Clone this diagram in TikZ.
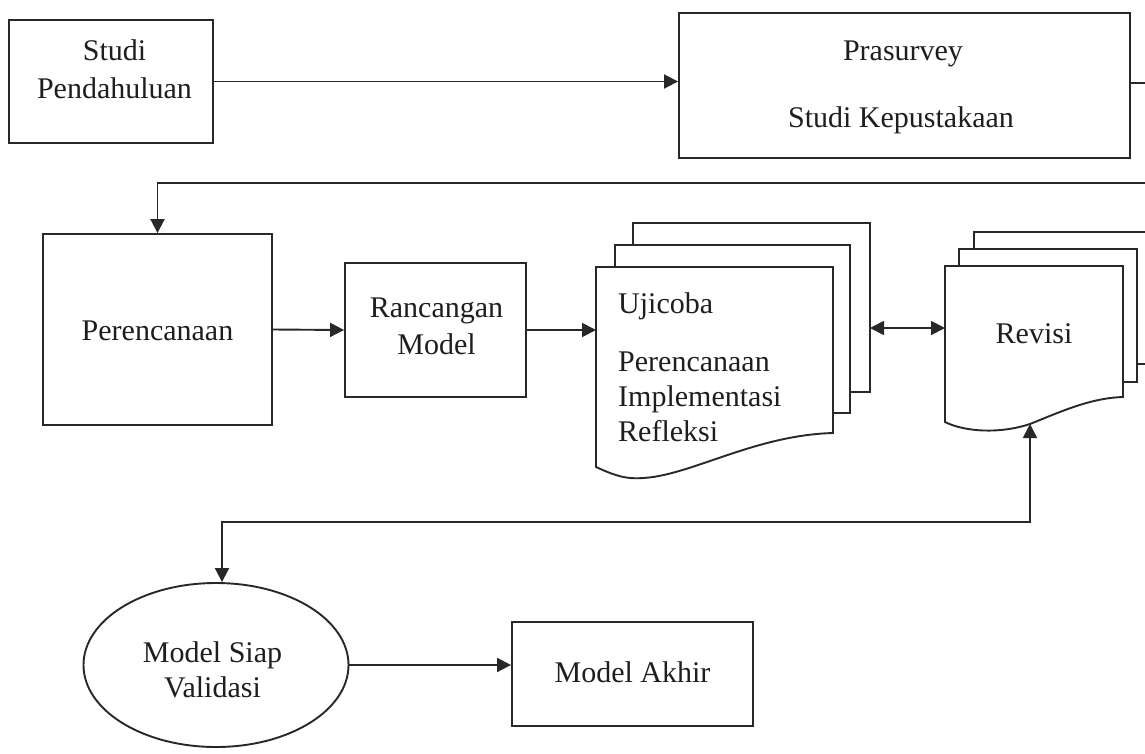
\documentclass[tikz,border=0pt]{standalone}
\usepackage{fontspec}
\setmainfont{Liberation Serif}
\usetikzlibrary{arrows.meta,shapes.geometric}
\definecolor{lncol}{RGB}{40,40,40}
\definecolor{txtcol}{RGB}{30,30,30}
\tikzset{
  ln/.style={line width=1.9pt, draw=lncol},
  box/.style={ln, rectangle, fill=white, inner sep=0pt},
  oval/.style={ln, ellipse, fill=white, inner sep=0pt},
  doc/.style={ln, fill=white, line join=miter},
  txt/.style={inner sep=0pt, text=txtcol, font=\fontsize{30}{35}\selectfont},
  arr/.style={ln, -{Triangle[length=14pt,width=14pt]}},
  dbl/.style={ln, {Triangle[length=14pt,width=14pt]}-{Triangle[length=14pt,width=14pt]}},
}
\begin{document}
\begin{tikzpicture}[x=1pt,y=-1pt]
\fill[white] (0,0) rectangle (1145,753);
\useasboundingbox (0,0) rectangle (1145,753);

% boxes
\node[box, minimum width=204pt, minimum height=123pt] (studi) at (111,81.5) {};
\node[txt, align=center, font=\fontsize{30}{38}\selectfont] (studit) at (114.5,69) {Studi\\Pendahuluan};

\node[box, minimum width=451pt, minimum height=145pt] (pras) at (904.5,85.5) {};
\node[txt, anchor=base] (prast1) at (903,60) {Prasurvey};
\node[txt, anchor=base] (prast2) at (901,127) {Studi Kepustakaan};

\node[box, minimum width=229pt, minimum height=191pt] (per) at (157.5,329.5) {};
\node[txt, anchor=base] (pert) at (157.5,340) {Perencanaan};

\node[box, minimum width=181pt, minimum height=134pt] (ranc) at (435.5,330) {};
\node[txt, align=center, font=\fontsize{30}{37}\selectfont] (ranct) at (436.5,326.5) {Rancangan\\Model};

% Ujicoba document stack
\draw[doc] (633,223) rectangle (870,392);
\draw[doc] (615,245) rectangle (850,413);
\draw[doc] (596,267) -- (833,267) -- (833,433)
  .. controls (760,435) and (700,470) .. (653,477)
  .. controls (630,480) and (620,478) .. (596,467) -- cycle;
\node[txt, anchor=base west] (ujit1) at (618,313) {Ujicoba};
\node[txt, anchor=west, align=left] (ujit2) at (618,397) {Perencanaan\\Implementasi\\Refleksi};

% Revisi document stack
\draw[doc] (974,232) rectangle (1165,364);
\draw[doc] (959,249) rectangle (1137,382);
\draw[doc] (945,266) -- (1123,266) -- (1123,397)
  .. controls (1090,398) and (1060,412) .. (1030,424)
  .. controls (1000,434) and (965,432) .. (945,422) -- cycle;
\node[txt, anchor=base] (revt) at (1034,343) {Revisi};

% ellipse and final box
\node[oval, minimum width=265pt, minimum height=164pt] (ell) at (216,665) {};
\node[txt, align=center] (ellt) at (212.5,670) {Model Siap\\Validasi};

\node[box, minimum width=241pt, minimum height=104pt] (akhir) at (632.5,674) {};
\node[txt, anchor=base] (akhirt) at (632.5,682) {Model Akhir};

% named free ends
\coordinate (e1) at (1145,83);
\coordinate (e2) at (1145,183);
\coordinate (ujiW) at (596,330);
\coordinate (ujiE) at (870,328);
\coordinate (revW) at (945,328);
\coordinate (revB) at (1030,424);
\coordinate (mid) at (222,522);

% connectors
\draw[arr] (studi.east) -- (studi.east -| pras.west);
\draw[ln] (pras.east |- e1) -- (e1);
\draw[arr] (e2) -| (per.north);
\draw[arr] (per.east) -- (ranc.west);
\draw[arr] (ranc.east) -- (ujiW);
\draw[dbl] (ujiE) -- (revW);
\draw[dbl] (revB) |- (mid) -- (mid |- ell.north);
\draw[arr] (ell.east) -- (ell.east -| akhir.west);
\end{tikzpicture}
\end{document}
